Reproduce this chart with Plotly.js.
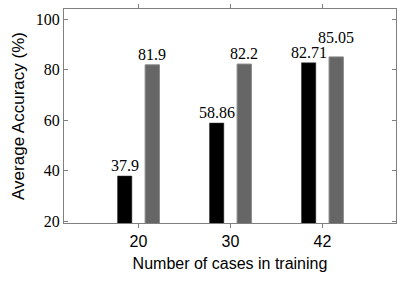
<!DOCTYPE html>
<html>
<head>
<meta charset="utf-8">
<script src="https://cdn.plot.ly/plotly-3.0.1.min.js"></script>
<style>html,body{margin:0;padding:0;background:#fff;}#chart{width:404px;height:282px;}</style>
</head>
<body>
<div id="chart"></div>
<script>
const categories = ["20", "30", "42"];
const seriesA = [37.9, 58.86, 82.71];
const seriesB = [81.9, 82.2, 85.05];
const labelsA = ["37.9", "58.86", "82.71"];
const labelsB = ["81.9", "82.2", "85.05"];
const yTicks = [20, 40, 60, 80, 100];

const barW = 0.156;
const offA = -0.228, offB = 0.072;
const serif = "Liberation Serif, Times New Roman, serif";
const sans = "Liberation Sans, Arial, sans-serif";

const traces = [
  {type: "bar", x: categories, y: seriesA, offset: offA, width: barW,
   marker: {color: "#000000", line: {color: "#333333", width: 0.5}}, showlegend: false, hoverinfo: "none"},
  {type: "bar", x: categories, y: seriesB, offset: offB, width: barW,
   marker: {color: "#666666", line: {color: "#8a8a8a", width: 1}}, showlegend: false, hoverinfo: "none"}
];

const annotations = [];
categories.forEach((c, i) => {
  annotations.push({x: i + offA + barW / 2, y: seriesA[i], xref: "x", yref: "y", text: labelsA[i],
    showarrow: false, yanchor: "bottom", yshift: 0, font: {family: serif, size: 16, color: "#000"}});
  annotations.push({x: i + offB + barW / 2, y: seriesB[i], xref: "x", yref: "y", text: labelsB[i],
    showarrow: false, yanchor: "bottom", yshift: i === 2 ? 9 : 0, font: {family: serif, size: 16, color: "#000"}});
});

const layout = {
  width: 404, height: 282,
  margin: {l: 64, r: 8, t: 9, b: 59},
  paper_bgcolor: "#fff", plot_bgcolor: "#fff",
  barmode: "group",
  xaxis: {
    type: "category", range: [-0.81, 2.8],
    showgrid: false, zeroline: false,
    showline: true, linecolor: "#808080", linewidth: 1, mirror: "ticks",
    ticks: "outside", ticklen: 4, tickcolor: "#808080",
    tickfont: {family: sans, size: 16, color: "#000"},
    title: {text: "Number of cases in training", font: {family: sans, size: 16, color: "#000"}, standoff: 8}
  },
  yaxis: {
    range: [19.3, 104], tickvals: yTicks, ticktext: yTicks.map(String),
    showgrid: false, zeroline: false,
    showline: true, linecolor: "#808080", linewidth: 1, mirror: "ticks",
    ticks: "inside", ticklen: 4, tickcolor: "#808080",
    tickfont: {family: serif, size: 16, color: "#000"},
    title: {text: "Average Accuracy (%)", font: {family: sans, size: 17, color: "#000"}, standoff: 6}
  },
  annotations: annotations
};

Plotly.newPlot("chart", traces, layout, {staticPlot: true, displayModeBar: false});
</script>
</body>
</html>
